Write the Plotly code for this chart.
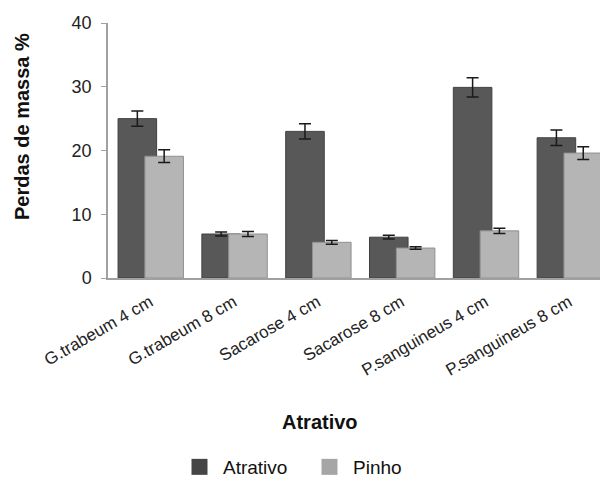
import plotly.graph_objects as go

categories = ["G.trabeum 4 cm", "G.trabeum 8 cm", "Sacarose 4 cm",
              "Sacarose 8 cm", "P.sanguineus 4 cm", "P.sanguineus 8 cm"]
atrativo = [25.0, 6.9, 23.0, 6.4, 29.9, 22.0]
atrativo_err = [1.2, 0.3, 1.2, 0.3, 1.5, 1.2]
pinho = [19.1, 6.9, 5.6, 4.7, 7.4, 19.6]
pinho_err = [1.0, 0.4, 0.3, 0.2, 0.4, 1.0]
y_ticks = [0, 10, 20, 30, 40]

FONT = "Liberation Sans, Arial, sans-serif"

fig = go.Figure()
fig.add_trace(go.Bar(
    x=categories, y=atrativo, name="Atrativo", showlegend=False,
    offset=-0.38, width=0.46,
    marker=dict(color="#585858", line=dict(color="#404040", width=1)),
    error_y=dict(type="data", array=atrativo_err, color="#1a1a1a",
                 thickness=1.5, width=6),
))
fig.add_trace(go.Bar(
    x=categories, y=pinho, name="Pinho", showlegend=False,
    offset=-0.06, width=0.46,
    marker=dict(color="#b5b5b5", line=dict(color="#909090", width=1)),
    error_y=dict(type="data", array=pinho_err, color="#1a1a1a",
                 thickness=1.5, width=6),
))
# legend entries
fig.add_trace(go.Scatter(x=[None], y=[None], mode="markers", name="Atrativo",
                         marker=dict(symbol="square", size=17, color="#454545")))
fig.add_trace(go.Scatter(x=[None], y=[None], mode="markers", name="Pinho",
                         marker=dict(symbol="square", size=17, color="#a6a6a6")))

fig.update_layout(
    width=600, height=477,
    margin=dict(l=108, r=0, t=23, b=199, autoexpand=False),
    paper_bgcolor="white", plot_bgcolor="white",
    barmode="overlay",
    font=dict(family=FONT, size=17, color="#222222"),
    showlegend=True,
    legend=dict(orientation="h", x=(176 - 108) / 492, xanchor="left",
                y=-(467 - 278) / 255, yanchor="middle",
                font=dict(size=19, color="#111111"),
                itemwidth=37, entrywidth=78, entrywidthmode="pixels"),
    xaxis=dict(type="category", range=[-0.5, 5.37], showline=True,
               linecolor="#a0a0a0", linewidth=1.5, ticks="",
               tickangle=-30, ticklabelstandoff=6,
               tickfont=dict(size=17, color="#222222"),
               showgrid=False, zeroline=False, automargin=False),
    yaxis=dict(range=[0, 40], tickvals=y_ticks, showline=True,
               linecolor="#a0a0a0", linewidth=1.5, ticks="outside",
               ticklen=5, tickcolor="#a0a0a0", ticklabelstandoff=6,
               tickfont=dict(size=18, color="#222222"),
               showgrid=False, zeroline=False, automargin=False),
    annotations=[
        dict(text="<b>Perdas de massa %</b>", textangle=-90,
             xref="paper", yref="paper", x=-(108 - 22) / 492, y=(278 - 127) / 255,
             xanchor="center", yanchor="middle", showarrow=False,
             font=dict(size=20, color="#111111")),
        dict(text="<b>Atrativo</b>",
             xref="paper", yref="paper", x=(320 - 108) / 492, y=-(422 - 278) / 255,
             xanchor="center", yanchor="middle", showarrow=False,
             font=dict(size=20, color="#111111")),
    ],
)

fig.write_html("out.html", config={"displayModeBar": False},
               post_script="document.body.style.margin='0px';")
